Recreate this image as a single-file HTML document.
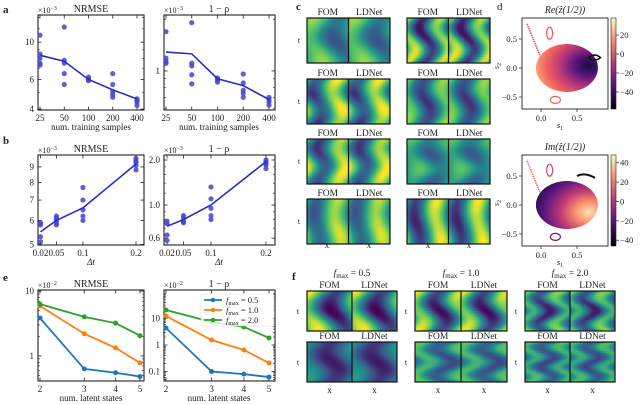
<!DOCTYPE html>
<html><head><meta charset="utf-8">
<style>
html,body{margin:0;padding:0;background:#fff;font-family:"Liberation Serif","DejaVu Serif",serif;}
svg{display:block;font-family:"Liberation Serif","DejaVu Serif",serif;}
svg text{font-family:"Liberation Serif","DejaVu Serif",serif;fill:#222;}
</style></head>
<body>
<svg id="fig" width="640" height="404" viewBox="0 0 640 404" xmlns="http://www.w3.org/2000/svg" font-family="Liberation Serif, DejaVu Serif, serif">
<defs>
<linearGradient id="magmaV" x1="0" y1="1" x2="0" y2="0">
<stop offset="0" stop-color="#000004"/><stop offset="0.25" stop-color="#51127c"/><stop offset="0.5" stop-color="#b73779"/><stop offset="0.75" stop-color="#fc8961"/><stop offset="1" stop-color="#fcfdbf"/>
</linearGradient>
<radialGradient id="blobTop" cx="0.85" cy="0.45" r="0.9">
<stop offset="0" stop-color="#1a0b3a"/><stop offset="0.25" stop-color="#5a167e"/><stop offset="0.5" stop-color="#b73779"/><stop offset="0.75" stop-color="#f0605d"/><stop offset="1" stop-color="#fdb27a"/>
</radialGradient>
<radialGradient id="blobBot" cx="0.85" cy="0.65" r="0.9">
<stop offset="0" stop-color="#fde0b0"/><stop offset="0.25" stop-color="#f98e6a"/><stop offset="0.5" stop-color="#c03a76"/><stop offset="0.8" stop-color="#5a167e"/><stop offset="1" stop-color="#2a0c50"/>
</radialGradient>
</defs>
<g id="root"></g>
</svg>
<script>
// ---------- DATA ----------
const aSamples=[25,50,100,200,400];
const aNrmseMean=[8.35,7.7,6.0,5.2,4.6];
const aNrmsePts=[[11,8.5,8,7.5,7.3],[12.3,7.8,7.5,6.5,5.6],[6.2,6.0,5.9],[6.5,5.6,5.1,4.9,4.7],[4.6,4.5,4.4,4.2]];
const aRhoMean=[1.29,1.26,0.9,0.82,0.68];
const aRhoPts=[[1.7,1.19,1.14,1.11],[1.92,1.11,1.07,0.95,0.84],[0.91,0.885,0.86],[0.96,0.85,0.77,0.74,0.70],[0.70,0.68,0.66,0.63]];
const bDt=[0.02,0.05,0.1,0.2];
const bNrmseMean=[5.5,6.0,6.6,9.2];
const bNrmsePts=[[5.9,5.8,5.3,5.1],[6.2,6.1,6.0,5.9,5.8],[7.7,7.0,6.5,6.2,6.0],[9.6,9.4,9.3,9.1,8.8]];
const bRhoMean=[0.72,0.8,1.0,1.95];
const bRhoPts=[[0.78,0.75,0.63,0.58],[0.85,0.82,0.78,0.76],[1.32,1.1,0.95,0.85,0.8],[2.0,1.95,1.9,1.85,1.75]];
const eStates=[2,3,4,5];
const eNrmse05=[3.84,0.63,0.55,0.48];
const eNrmse10=[5.9,2.2,1.33,0.78];
const eNrmse20=[6.3,4.0,3.2,2.05];
const eRho05=[4.4,0.1,0.08,0.062];
const eRho10=[12.4,1.55,0.65,0.21];
const eRho20=[21,7.4,4.8,1.85];
const eLegend=["f_max = 0.5","f_max = 1.0","f_max = 2.0"];

const NS="http://www.w3.org/2000/svg";
const root=document.getElementById('root');
const SERIF='"Liberation Serif", "DejaVu Serif", serif';
function el(tag,attrs,parent,txt){const e=document.createElementNS(NS,tag);for(const k in attrs)e.setAttribute(k,attrs[k]);
  if(tag==='text'){e.setAttribute('font-family',SERIF);e.style.fontFamily=SERIF;}
  if(txt!==undefined)e.textContent=txt;(parent||root).appendChild(e);return e;}
function logS(d0,d1,r0,r1){return v=>r0+(Math.log10(v)-Math.log10(d0))/(Math.log10(d1)-Math.log10(d0))*(r1-r0);}
function linS(d0,d1,r0,r1){return v=>r0+(v-d0)/(d1-d0)*(r1-r0);}

function axesFrame(name,x0,y0,x1,y1,xt,yt,sx,sy,minorX,minorY){
  const g=el('g',{});
  
  
  el('rect',{x:x0,y:y0,width:x1-x0,height:y1-y0,fill:'none',stroke:'#222','stroke-width':1.1},g);
  xt.forEach(t=>{const x=sx(t[0]);
    el('line',{x1:x,x2:x,y1:y1,y2:y1-3.5,stroke:'#222','stroke-width':0.8},g);
    el('line',{x1:x,x2:x,y1:y0,y2:y0+3.5,stroke:'#222','stroke-width':0.8},g);
    const tx=el('text',{x:x,y:y1+11,'font-size':9,'text-anchor':'middle'},g,t[1]);
    });
  yt.forEach(t=>{const y=sy(t[0]);
    el('line',{x1:x0,x2:x0+3.5,y1:y,y2:y,stroke:'#222','stroke-width':0.8},g);
    el('line',{x1:x1,x2:x1-3.5,y1:y,y2:y,stroke:'#222','stroke-width':0.8},g);
    const ty=el('text',{x:x0-4,y:y+3,'font-size':9,'text-anchor':'end'},g,t[1]);
    });
  (minorY||[]).forEach(v=>{const y=sy(v);if(y<y0||y>y1)return;
    el('line',{x1:x0,x2:x0+2,y1:y,y2:y,stroke:'#222','stroke-width':0.6},g);
    el('line',{x1:x1,x2:x1-2,y1:y,y2:y,stroke:'#222','stroke-width':0.6},g);});
  (minorX||[]).forEach(v=>{const x=sx(v);if(x<x0||x>x1)return;
    el('line',{x1:x,x2:x,y1:y1,y2:y1-2,stroke:'#222','stroke-width':0.6},g);
    el('line',{x1:x,x2:x,y1:y0,y2:y0+2,stroke:'#222','stroke-width':0.6},g);});
  return g;
}
function label(txt,x,y,size,name,anchor,style){const t=el('text',{x:x,y:y,'font-size':size,'text-anchor':anchor||'middle'},root);t.textContent=txt;if(style)t.setAttribute('font-style',style);
  
  return t;}
function expo(x,y,p){const t=el('text',{x:x,y:y,'font-size':8},root);t.textContent='×10';const s=el('tspan',{dy:-3,'font-size':6},t);s.textContent=p;
  
  }

function scatterLine(name,xs,mean,pts,sx,sy){
  const g=el('g',{});
  
  
  xs.forEach((x,i)=>pts[i].forEach(v=>{const c=el('circle',{cx:sx(x),cy:sy(v),r:2.6,fill:'#4444cc','fill-opacity':0.85},g);
    
    }));
  const p=el('polyline',{points:xs.map((x,i)=>sx(x)+','+sy(mean[i])).join(' '),fill:'none',stroke:'#2b2bc8','stroke-width':1.6},g);
  
  
}
const logMinor=(a,b)=>{const r=[];for(let e=a;e<=b;e++)for(let k=2;k<10;k++)r.push(k*Math.pow(10,e));return r;};

// ---------- panel a ----------
label('a',3,13,11,'panel-label-a','start').setAttribute('font-weight','bold');
let sx=logS(25,400,40,137),sy=logS(3.95,14.5,110,15);
axesFrame('a-nrmse-axes',38,15,144,110,[[25,'25'],[50,'50'],[100,'100'],[200,'200'],[400,'400']],[[4,'4'],[6,'6'],[10,'10']],sx,sy,null,[5,7,8,9,12,14]);
scatterLine('a-nrmse-series',aSamples,aNrmseMean,aNrmsePts,sx,sy);
label('NRMSE',91,12,10,'a-nrmse-title');expo(38,13,'−3');
label('num. training samples',91,130,9,'a-x-axis-title');
sy=logS(0.59,2.13,110,15);let sx2=logS(25,400,166,269);
axesFrame('a-rho-axes',164,15,275,110,[[25,'25'],[50,'50'],[100,'100'],[200,'200'],[400,'400']],[[1,'1']],sx2,sy,null,[0.6,0.7,0.8,0.9,2]);
scatterLine('a-rho-series',aSamples,aRhoMean,aRhoPts,sx2,sy);
label('1 − ρ',219,12,10,'a-rho-title');expo(164,13,'−3');
label('num. training samples',219,130,9,'a-rho-x-axis-title');

// ---------- panel b ----------
label('b',3,144,11,'panel-label-b','start').setAttribute('font-weight','bold');
sx=linS(0.02,0.2,40.5,136);sy=logS(4.98,9.85,245,155);
axesFrame('b-nrmse-axes',38,155,144,245,[[0.02,'0.02'],[0.05,'0.05'],[0.1,'0.1'],[0.2,'0.2']],[[5,'5'],[6,'6'],[7,'7'],[8,'8'],[9,'9']],sx,sy);
scatterLine('b-nrmse-series',bDt,bNrmseMean,bNrmsePts,sx,sy);
label('NRMSE',91,152,10,'b-nrmse-title');expo(38,153,'−3');
label('Δt',91,265,9,'b-x-axis-title','middle','italic');
sx2=linS(0.02,0.2,167,266);sy=logS(0.54,2.16,245,155);
axesFrame('b-rho-axes',164,155,275,245,[[0.02,'0.02'],[0.05,'0.05'],[0.1,'0.1'],[0.2,'0.2']],[[0.6,'0.6'],[1.0,'1.0'],[2.0,'2.0']],sx2,sy,null,[0.7,0.8,0.9,1.2,1.4,1.6,1.8]);
scatterLine('b-rho-series',bDt,bRhoMean,bRhoPts,sx2,sy);
label('1 − ρ',219,152,10,'b-rho-title');expo(164,153,'−3');
label('Δt',219,265,9,'b-rho-x-axis-title','middle','italic');

// ---------- panel e ----------
label('e',3,281,11,'panel-label-e','start').setAttribute('font-weight','bold');
const cols=['#1f77b4','#ff7f0e','#2ca02c'];
function lineSeries(name,xs,ys,color,sx,sy){const g=el('g',{});
  
  
  const p=el('polyline',{points:xs.map((x,i)=>sx(x)+','+sy(ys[i])).join(' '),fill:'none',stroke:color,'stroke-width':1.8},g);
  
  
  xs.forEach((x,i)=>{const c=el('circle',{cx:sx(x),cy:sy(ys[i]),r:2.5,fill:color},g);
    
    });}
sx=logS(2,5,40,140);sy=logS(0.41,10.4,381,290);
axesFrame('e-nrmse-axes',38,290,144,381,[[2,'2'],[3,'3'],[4,'4'],[5,'5']],[[1,'1'],[10,'10']],sx,sy,null,logMinor(-1,0));
lineSeries('e-nrmse-fmax-0.5',eStates,eNrmse05,cols[0],sx,sy);
lineSeries('e-nrmse-fmax-1.0',eStates,eNrmse10,cols[1],sx,sy);
lineSeries('e-nrmse-fmax-2.0',eStates,eNrmse20,cols[2],sx,sy);
label('NRMSE',91,287,10,'e-nrmse-title');expo(38,288,'−2');
label('num. latent states',91,401,9,'e-x-axis-title');
sx2=logS(2,5,166,269);sy=logS(0.044,119,381,290);
axesFrame('e-rho-axes',164,290,275,381,[[2,'2'],[3,'3'],[4,'4'],[5,'5']],[[0.1,'0.1'],[1,'1'],[10,'10']],sx2,sy,null,logMinor(-2,1));
lineSeries('e-rho-fmax-0.5',eStates,eRho05,cols[0],sx2,sy);
lineSeries('e-rho-fmax-1.0',eStates,eRho10,cols[1],sx2,sy);
lineSeries('e-rho-fmax-2.0',eStates,eRho20,cols[2],sx2,sy);
label('1 − ρ',219,287,10,'e-rho-title');expo(164,288,'−2');
label('num. latent states',219,401,9,'e-rho-x-axis-title');
// legend
const lg=el('g',{});


el('rect',{x:201,y:294,width:73,height:32,fill:'#fff','fill-opacity':0.8,stroke:'#ddd','stroke-width':0.6,rx:2},lg);
eLegend.forEach((s,i)=>{const y=300+i*10;
  const it=el('g',{},lg);
  
  
  el('line',{x1:204,x2:222,y1:y,y2:y,stroke:cols[i],'stroke-width':1.8},it);
  el('circle',{cx:213,cy:y,r:2.3,fill:cols[i]},it);
  const t=el('text',{x:226,y:y+3,'font-size':8.5},it);
  const a=el('tspan',{'font-style':'italic'},t);a.textContent='f';
  const b=el('tspan',{dy:2,'font-size':6},t);b.textContent='max';
  const c=el('tspan',{dy:-2},t);c.textContent=' = '+s.split('= ')[1];
});

// ---------- heatmaps ----------
const VIR=[[68,1,84],[59,82,139],[33,145,140],[94,201,98],[253,231,37]];
function vir(v){v=Math.max(0,Math.min(1,v))*4;const i=Math.min(3,Math.floor(v)),f=v-i;const a=VIR[i],b=VIR[i+1];
  return 'rgb('+a.map((c,k)=>Math.round(c+(b[k]-c)*f)).join(',')+')';}
function heat(name,x,y,w,h,p){
  const g=el('g',{});
  
  
  const nx=24,ny=22,half=w/2;
  for(let s=0;s<2;s++){const ox=x+s*half;
    for(let j=0;j<ny;j++)for(let i=0;i<nx;i++){
      const u=(i+0.5)/nx,t=(j+0.5)/ny;
      const v=p.b+p.a*Math.sin(2*Math.PI*(p.kx*u+p.amp*Math.sin(Math.PI*p.kt*t+p.pt)+p.ph))+p.c*Math.cos(2*Math.PI*(p.kt2*t+p.ph2));
      el('rect',{x:ox+i*half/nx,y:y+j*h/ny,width:half/nx+0.4,height:h/ny+0.4,fill:vir(v)},g);}
  }
  el('rect',{x:x,y:y,width:w,height:h,fill:'none',stroke:'#111','stroke-width':1.2},g);
  el('line',{x1:x+half,x2:x+half,y1:y,y2:y+h,stroke:'#111','stroke-width':1.2},g);
  const a=el('text',{x:x+half/2,y:y-3,'font-size':9.5,'text-anchor':'middle'},root);a.textContent='FOM';
  
  
  const b=el('text',{x:x+half*1.5,y:y-3,'font-size':9.5,'text-anchor':'middle'},root);b.textContent='LDNet';
  
  
}
label('c',296,10,11,'panel-label-c','start').setAttribute('font-weight','bold');
const cRows=[18,79,139,199];
const cParams=[
 [{a:0.22,b:0.55,c:0.08,kx:0.8,amp:0.15,kt:1.5,pt:0,ph:0.1,kt2:1,ph2:0},{a:0.38,b:0.5,c:0.08,kx:1.2,amp:0.2,kt:2,pt:0.3,ph:0.2,kt2:1,ph2:0.2}],
 [{a:0.35,b:0.58,c:0.08,kx:1,amp:0.12,kt:2,pt:0,ph:0.5,kt2:1.5,ph2:0},{a:0.3,b:0.5,c:0.05,kx:1,amp:0.12,kt:2,pt:0.2,ph:0.3,kt2:1,ph2:0}],
 [{a:0.35,b:0.58,c:0.08,kx:1,amp:0.1,kt:2.5,pt:0,ph:0.4,kt2:1,ph2:0.3},{a:0.15,b:0.5,c:0.08,kx:1,amp:0.15,kt:2,pt:0.5,ph:0.1,kt2:1.5,ph2:0}],
 [{a:0.3,b:0.6,c:0.05,kx:1,amp:0.08,kt:1.5,pt:0,ph:0.5,kt2:1,ph2:0.2},{a:0.4,b:0.55,c:0.05,kx:1,amp:0.08,kt:1.5,pt:0.2,ph:0.5,kt2:1,ph2:0}]];
cRows.forEach((y,r)=>{heat('c-heatmap-r'+(r+1)+'-left',307,y,83,45,cParams[r][0]);heat('c-heatmap-r'+(r+1)+'-right',407,y,83,45,cParams[r][1]);
  label('t',299,y+25,8,'t-axis-label');});
label('x',327,248,9,'x-axis-label');label('x',369,248,9,'x-axis-label');
label('x',428,248,9,'x-axis-label');label('x',469,248,9,'x-axis-label');

label('f',292,280,11,'panel-label-f','start').setAttribute('font-weight','bold');
const fX=[307,415,525],fW=[90,92,90];
const fTitles=['0.5','1.0','2.0'];
const fParams=[
 [{a:0.4,b:0.5,c:0.1,kx:0.8,amp:0.15,kt:1.5,pt:0,ph:0.2,kt2:1,ph2:0},{a:0.2,b:0.32,c:0.05,kx:0.8,amp:0.12,kt:2,pt:0,ph:0.3,kt2:1,ph2:0}],
 [{a:0.38,b:0.5,c:0.1,kx:1,amp:0.15,kt:2,pt:0,ph:0.2,kt2:1,ph2:0},{a:0.22,b:0.48,c:0.05,kx:1,amp:0.2,kt:3,pt:0,ph:0.1,kt2:1,ph2:0}],
 [{a:0.28,b:0.45,c:0.1,kx:1.3,amp:0.2,kt:3,pt:0,ph:0.2,kt2:1,ph2:0},{a:0.2,b:0.45,c:0.05,kx:1.3,amp:0.2,kt:4,pt:0,ph:0.1,kt2:1,ph2:0}]];
fX.forEach((x,k)=>{
  const t=el('text',{x:x+fW[k]/2,y:276,'font-size':9.5,'text-anchor':'middle'},root);
  
  
  const a=el('tspan',{'font-style':'italic'},t);a.textContent='f';
  const b=el('tspan',{dy:2,'font-size':7},t);b.textContent='max';
  const c=el('tspan',{dy:-2},t);c.textContent=' = '+fTitles[k];
  heat('f-heatmap-'+fTitles[k]+'-top',x,291,fW[k],40,fParams[k][0]);
  heat('f-heatmap-'+fTitles[k]+'-bottom',x,342,fW[k],40,fParams[k][1]);
  label('t',x-9,314,8,'t-axis-label');label('t',x-9,365,8,'t-axis-label');
  label('x',x+fW[k]/4,393,9,'x-axis-label');label('x',x+fW[k]*0.75,393,9,'x-axis-label');
});

// ---------- panel d ----------
label('d',497,10,11,'panel-label-d','start');
function scatterPanel(name,y0,grad,title,cbTicks,cbLo,cbHi,top){
  const x0=522,x1=608,y1=y0+91;
  const sxx=linS(0,0.5,541,577),syy=linS(0,0.5,y0+50,y0+21);
  const g=el('g',{});
  
  
  el('rect',{x:x0,y:y0,width:x1-x0,height:y1-y0,fill:'#fff'},g);
  for(let i=0;i<24;i++){const f=i/23;
    el('circle',{cx:sxx(-0.19+f*0.28),cy:syy(0.75-f*0.85),r:0.9,fill:top?'#e8506a':'#f07a66'},g);}
  el('ellipse',{cx:sxx(0.12),cy:syy(0.6),rx:3,ry:6,fill:'none',stroke:top?'#e8506a':'#d04878','stroke-width':1.2},g);
  el('ellipse',{cx:sxx(0.36),cy:syy(0.0),rx:31,ry:24,fill:'url(#'+grad+')'},g);
  el('ellipse',{cx:sxx(0.2),cy:syy(-0.55),rx:5,ry:3.5,fill:'none',stroke:top?'#f0605d':'#6a1c7e','stroke-width':1.2},g);
  if(top){el('path',{d:'M'+sxx(0.66)+' '+syy(0.18)+' q6 -5 12 0 q-6 5 -12 0',fill:'none',stroke:'#111','stroke-width':1.5},g);}
  else{el('path',{d:'M'+sxx(0.5)+' '+syy(0.5)+' q8 -4 18 2',fill:'none',stroke:'#111','stroke-width':2},g);}
  el('rect',{x:x0,y:y0,width:x1-x0,height:y1-y0,fill:'none',stroke:'#222','stroke-width':0.9},g);
  [[0,'0.0'],[0.5,'0.5']].forEach(t=>{el('line',{x1:sxx(t[0]),x2:sxx(t[0]),y1:y1,y2:y1+3,stroke:'#222','stroke-width':0.7},g);
    const tx=el('text',{x:sxx(t[0]),y:y1+12,'font-size':8.5,'text-anchor':'middle'},g);tx.textContent=t[1];});
  [[0.5,'0.5'],[0,'0.0'],[-0.5,'−0.5']].forEach(t=>{el('line',{x1:x0-3,x2:x0,y1:syy(t[0]),y2:syy(t[0]),stroke:'#222','stroke-width':0.7},g);
    const ty=el('text',{x:x0-5,y:syy(t[0])+3,'font-size':8.5,'text-anchor':'end'},g);ty.textContent=t[1];});
  const xl=el('text',{x:560,y:y1+19,'font-size':8,'text-anchor':'middle','font-style':'italic'},g);xl.textContent='s';
  const xs=el('tspan',{dy:2,'font-size':6,'font-style':'normal'},xl);xs.textContent='1';
  const yl=el('text',{x:499,y:y0+48,'font-size':8,'font-style':'italic',transform:'rotate(-90 499 '+(y0+48)+')','text-anchor':'middle'},g);yl.textContent='s';
  const ys=el('tspan',{dy:2,'font-size':6,'font-style':'normal'},yl);ys.textContent='2';
  const tt=el('text',{x:565,y:y0-5,'font-size':10,'text-anchor':'middle','font-style':'italic'},g);tt.textContent=title;
  const cb=el('rect',{x:611,y:y0,width:5,height:91,fill:'url(#magmaV)',stroke:'#222','stroke-width':0.6},root);
  
  
  const cs=linS(cbLo,cbHi,y1,y0);
  cbTicks.forEach(v=>{el('line',{x1:616,x2:619,y1:cs(v),y2:cs(v),stroke:'#222','stroke-width':0.7},root);
    const t=el('text',{x:620,y:cs(v)+3,'font-size':8.5},root);t.textContent=String(v).replace('-','−');
    
    });
}
scatterPanel('d-real-scatter',18,'blobTop','Re(ẑ(1/2))',[20,0,-20,-40],-58,38,true);
scatterPanel('d-imag-scatter',155,'blobBot','Im(ẑ(1/2))',[40,20,0,-20,-40],-46,48,false);
</script>
</body></html>
